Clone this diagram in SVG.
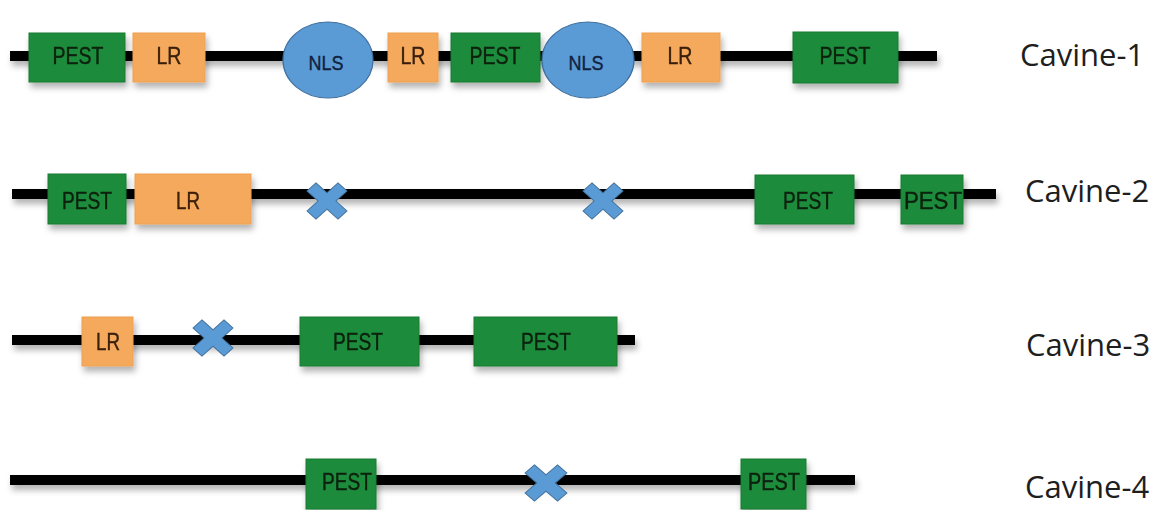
<svg xmlns="http://www.w3.org/2000/svg" width="1159" height="510" viewBox="0 0 1159 510">
<style>
.pest{fill:#1f8b3b;stroke:#1a7a33;stroke-width:1}
.lr{fill:#f5a95d;stroke:#eea050;stroke-width:1}
.nls{fill:#5b9bd5;stroke:#3f6f9e;stroke-width:1.2}
.cross{fill:#5b9bd5;stroke:#41719c;stroke-width:1}
.bb{stroke:#000;stroke-width:10;fill:none}
.t{font-family:"Liberation Sans","Open Sans",Arial,sans-serif;font-size:23px;text-anchor:middle;stroke-width:0.4}
.tp{fill:#0a200e;stroke:#0a200e}
.tl{fill:#3a200a;stroke:#3a200a}
.tn{fill:#10223f;stroke:#10223f;font-size:21px}
.lab{font-family:"Open Sans","Noto Sans","Liberation Sans",sans-serif;font-size:31px;fill:#1e1e1e}
</style>
<defs>
<filter id="sh" x="-20%" y="-40%" width="140%" height="200%">
<feDropShadow dx="2" dy="5" stdDeviation="3" flood-color="#000" flood-opacity="0.3"/>
</filter>
<path id="xm" d="M-10.5,-19 L0,-8.5 L10.5,-19 L19,-10.5 L8.5,0 L19,10.5 L10.5,19 L0,8.5 L-10.5,19 L-19,10.5 L-8.5,0 L-19,-10.5 Z"/>
</defs>
<rect width="1159" height="510" fill="#fff"/>
<g id="connectors" filter="url(#sh)">
<line class="bb" x1="10" y1="56" x2="937" y2="56"/>
<line class="bb" x1="12" y1="194" x2="996" y2="194"/>
<line class="bb" x1="12" y1="340" x2="635" y2="340"/>
<line class="bb" x1="10" y1="480" x2="855" y2="480"/>
</g>
<!-- Cavine-1 -->
<g id="c1-pest1" filter="url(#sh)"><rect class="pest" x="29" y="33" width="96" height="49"/><text class="t tp" x="78" y="64" textLength="51" lengthAdjust="spacingAndGlyphs">PEST</text></g>
<g id="c1-lr1" filter="url(#sh)"><rect class="lr" x="133" y="33" width="72" height="49"/><text class="t tl" x="169" y="64" textLength="25" lengthAdjust="spacingAndGlyphs">LR</text></g>
<g id="c1-nls1"><ellipse class="nls" cx="328" cy="60" rx="45" ry="38"/><text class="t tn" x="326" y="70" textLength="35" lengthAdjust="spacingAndGlyphs">NLS</text></g>
<g id="c1-lr2" filter="url(#sh)"><rect class="lr" x="388" y="33" width="50" height="49"/><text class="t tl" x="413" y="64" textLength="25" lengthAdjust="spacingAndGlyphs">LR</text></g>
<g id="c1-pest2" filter="url(#sh)"><rect class="pest" x="451" y="33" width="89" height="49"/><text class="t tp" x="495" y="64" textLength="51" lengthAdjust="spacingAndGlyphs">PEST</text></g>
<g id="c1-nls2"><ellipse class="nls" cx="588" cy="60" rx="46" ry="38"/><text class="t tn" x="586" y="70" textLength="35" lengthAdjust="spacingAndGlyphs">NLS</text></g>
<g id="c1-lr3" filter="url(#sh)"><rect class="lr" x="642" y="33" width="78" height="49"/><text class="t tl" x="680" y="64" textLength="25" lengthAdjust="spacingAndGlyphs">LR</text></g>
<g id="c1-pest3" filter="url(#sh)"><rect class="pest" x="793" y="32" width="105" height="51"/><text class="t tp" x="845" y="64" textLength="51" lengthAdjust="spacingAndGlyphs">PEST</text></g>
<g id="label-1"><text class="lab" x="1020" y="66">Cavine-1</text></g>
<!-- Cavine-2 -->
<g id="c2-pest1" filter="url(#sh)"><rect class="pest" x="48" y="174" width="78" height="50"/><text class="t tp" x="87" y="209" textLength="50" lengthAdjust="spacingAndGlyphs">PEST</text></g>
<g id="c2-lr1" filter="url(#sh)"><rect class="lr" x="135" y="174" width="116" height="50"/><text class="t tl" x="188" y="209" textLength="24" lengthAdjust="spacingAndGlyphs">LR</text></g>
<g id="c2-x1"><use href="#xm" class="cross" transform="translate(327,201) scale(1.05,0.95)"/></g>
<g id="c2-x2"><use href="#xm" class="cross" transform="translate(603,201) scale(1.05,0.95)"/></g>
<g id="c2-pest2" filter="url(#sh)"><rect class="pest" x="755" y="175" width="99" height="49"/><text class="t tp" x="808" y="209" textLength="50" lengthAdjust="spacingAndGlyphs">PEST</text></g>
<g id="c2-pest3" filter="url(#sh)"><rect class="pest" x="901" y="175" width="62" height="49"/><text class="t tp" x="933" y="209" textLength="58" lengthAdjust="spacingAndGlyphs">PEST</text></g>
<g id="label-2"><text class="lab" x="1025" y="202">Cavine-2</text></g>
<!-- Cavine-3 -->
<g id="c3-lr1" filter="url(#sh)"><rect class="lr" x="82" y="317" width="51" height="49"/><text class="t tl" x="108" y="350" textLength="24" lengthAdjust="spacingAndGlyphs">LR</text></g>
<g id="c3-x1"><use href="#xm" class="cross" transform="translate(213,338) scale(1.05,0.95)"/></g>
<g id="c3-pest1" filter="url(#sh)"><rect class="pest" x="300" y="317" width="119" height="49"/><text class="t tp" x="358" y="350" textLength="50" lengthAdjust="spacingAndGlyphs">PEST</text></g>
<g id="c3-pest2" filter="url(#sh)"><rect class="pest" x="474" y="317" width="143" height="49"/><text class="t tp" x="546" y="350" textLength="50" lengthAdjust="spacingAndGlyphs">PEST</text></g>
<g id="label-3"><text class="lab" x="1026" y="356">Cavine-3</text></g>
<!-- Cavine-4 -->
<g id="c4-pest1" filter="url(#sh)"><rect class="pest" x="306" y="459" width="70" height="50"/><text class="t tp" x="347" y="490" textLength="50" lengthAdjust="spacingAndGlyphs">PEST</text></g>
<g id="c4-x1"><use href="#xm" class="cross" transform="translate(546,483) scale(1.1,0.95)"/></g>
<g id="c4-pest2" filter="url(#sh)"><rect class="pest" x="741" y="459" width="65" height="50"/><text class="t tp" x="774" y="490" textLength="52" lengthAdjust="spacingAndGlyphs">PEST</text></g>
<g id="label-4"><text class="lab" x="1025" y="498">Cavine-4</text></g>
</svg>
